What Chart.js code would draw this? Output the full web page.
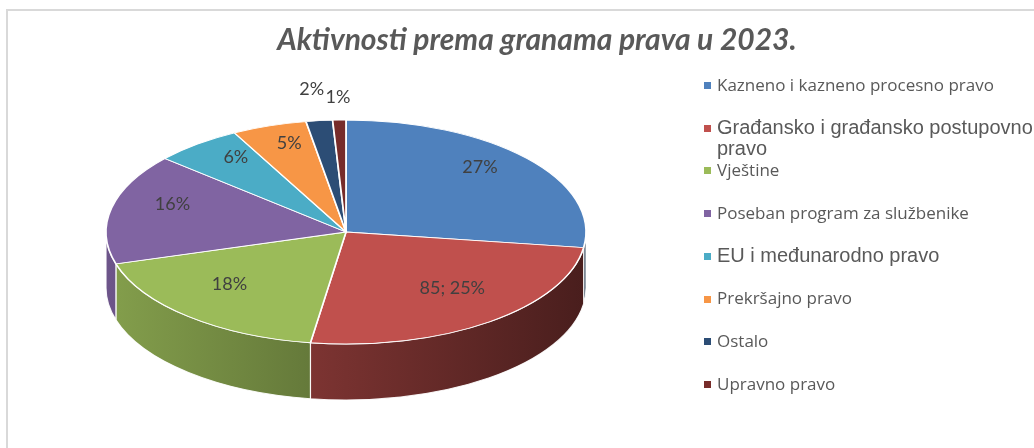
<!DOCTYPE html>
<html>
<head>
<meta charset="utf-8">
<script src="https://cdn.jsdelivr.net/npm/chart.js@4.4.0/dist/chart.umd.min.js"></script>
<style>
html,body{margin:0;padding:0;background:#fff;overflow:hidden}
#wrap{position:relative;width:1034px;height:448px}
canvas{display:block}
</style>
</head>
<body>
<div id="wrap"><canvas id="c" width="1034" height="448"></canvas></div>
<script>
// ---- data ----
const chartTitle = 'Aktivnosti prema granama prava u 2023.';
const categories = [
  'Kazneno i kazneno procesno pravo',
  'Građansko i građansko postupovno pravo',
  'Vještine',
  'Poseban program za službenike',
  'EU i međunarodno pravo',
  'Prekršajno pravo',
  'Ostalo',
  'Upravno pravo'
];
const values = [92, 85, 61, 54, 20, 17, 6, 3];
const showValueInLabel = [false, true, false, false, false, false, false, false];
const colors = ['#4F81BD', '#C0504D', '#9BBB59', '#8064A2', '#4BACC6', '#F79646', '#2C4D75', '#772C2A'];

// ---- geometry / style (not data) ----
const CX = 346, CY = 232, RX = 240, RY = 112, DEPTH = 56;
const LABEL_CY = 222;
const total = values.reduce((a, b) => a + b, 0);
const largeLegendItems = new Set([1, 4]);

function shade(hex, f) {
  const n = parseInt(hex.slice(1), 16);
  const r = Math.round(((n >> 16) & 255) * f), g = Math.round(((n >> 8) & 255) * f), b = Math.round((n & 255) * f);
  return `rgb(${r},${g},${b})`;
}

const framePlugin = {
  id: 'frame',
  beforeDraw(chart) {
    const ctx = chart.ctx;
    ctx.save();
    ctx.fillStyle = '#fff';
    ctx.fillRect(0, 0, chart.width, chart.height);
    ctx.fillStyle = '#d9d9d9';
    ctx.fillRect(6, 9, 2, chart.height);
    ctx.fillRect(6, 9, chart.width, 2);
    ctx.restore();
  }
};

const pie3d = {
  id: 'pie3d',
  beforeDatasetsDraw(chart) {
    const ctx = chart.ctx;
    const arcs = chart.getDatasetMeta(0).data;
    arcs.forEach((arc, i) => {
      const a0 = Math.max(arc.startAngle, 0), a1 = Math.min(arc.endAngle, Math.PI);
      if (a1 <= a0) return;
      ctx.save();
      ctx.beginPath();
      ctx.ellipse(CX, CY, RX, RY, 0, a0, a1, false);
      ctx.lineTo(CX + RX * Math.cos(a1), CY + RY * Math.sin(a1) + DEPTH);
      ctx.ellipse(CX, CY + DEPTH, RX, RY, 0, a1, a0, true);
      ctx.closePath();
      const g = ctx.createLinearGradient(CX - RX, 0, CX + RX, 0);
      g.addColorStop(0, shade(colors[i], 0.85));
      g.addColorStop(1, shade(colors[i], 0.38));
      ctx.fillStyle = g;
      ctx.fill();
      ctx.strokeStyle = 'rgba(255,255,255,0.9)';
      ctx.lineWidth = 1.2;
      ctx.stroke();
      ctx.restore();
    });
    const a = arcs[0];
    ctx.save();
    ctx.translate(CX, CY);
    ctx.scale(RX / a.outerRadius, RY / a.outerRadius);
    ctx.translate(-a.x, -a.y);
  },
  afterDatasetsDraw(chart) {
    const ctx = chart.ctx;
    ctx.restore();
    const arcs = chart.getDatasetMeta(0).data;
    ctx.save();
    ctx.font = '18px Lato';
    ctx.fillStyle = '#404040';
    ctx.textAlign = 'center';
    ctx.textBaseline = 'middle';
    arcs.forEach((arc, i) => {
      const mid = (arc.startAngle + arc.endAngle) / 2;
      const pct = Math.round(values[i] / total * 100);
      const text = showValueInLabel[i] ? `${values[i]}; ${pct}%` : `${pct}%`;
      const outside = pct < 3;
      const frac = pct < 2 ? 1.2 : (pct < 3 ? 1.28 : 0.74);
      const cy = outside ? CY : LABEL_CY;
      ctx.fillText(text, CX + RX * frac * Math.cos(mid), cy + RY * frac * Math.sin(mid));
    });
    ctx.restore();
  }
};

const titleLegendPlugin = {
  id: 'titleLegend',
  afterDraw(chart) {
    const ctx = chart.ctx;
    ctx.save();
    ctx.fillStyle = '#595959';
    ctx.textAlign = 'center';
    ctx.textBaseline = 'middle';
    ctx.font = 'italic bold 30px Lato';
    ctx.fillText(chartTitle, 537, 40);

    ctx.textAlign = 'left';
    const maxW = 318;
    categories.forEach((name, i) => {
      const y = 85 + i * 42.7;
      ctx.fillStyle = colors[i];
      ctx.fillRect(704, Math.round(y) - 3, 7, 7);
      ctx.font = largeLegendItems.has(i) ? '20px "Liberation Sans"' : '17px "Open Sans"';
      ctx.fillStyle = '#595959';
      const words = name.split(' ');
      const lines = [];
      let line = '';
      words.forEach(w => {
        const t = line ? line + ' ' + w : w;
        if (ctx.measureText(t).width > maxW && line) { lines.push(line); line = w; }
        else line = t;
      });
      lines.push(line);
      lines.forEach((l, k) => ctx.fillText(l, 717, y + 1 + k * 21));
    });
    ctx.restore();
  }
};

new Chart(document.getElementById('c'), {
  type: 'pie',
  data: {
    labels: categories,
    datasets: [{
      data: values,
      backgroundColor: colors,
      borderColor: '#ffffff',
      borderWidth: 1.6,
      clip: false
    }]
  },
  options: {
    responsive: false,
    animation: false,
    events: [],
    plugins: {
      legend: { display: false },
      title: { display: false },
      tooltip: { enabled: false }
    }
  },
  plugins: [framePlugin, pie3d, titleLegendPlugin]
});
</script>
</body>
</html>
